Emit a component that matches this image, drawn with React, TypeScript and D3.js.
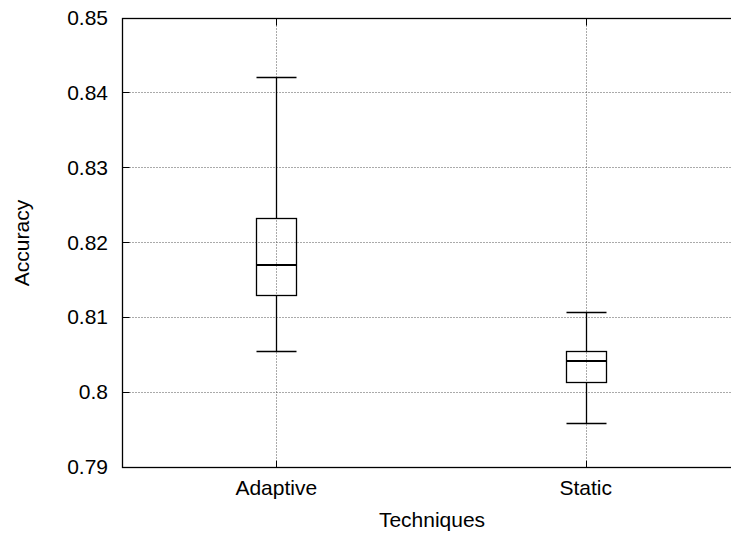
import React from "react";
import * as d3 from "d3";

const categories = ["Adaptive", "Static"];
const whiskerLow = [0.8054, 0.7958];
const q1 = [0.8129, 0.8013];
const median = [0.8169, 0.8041];
const q3 = [0.8232, 0.8055];
const whiskerHigh = [0.842, 0.8106];
const yTicks = [0.79, 0.8, 0.81, 0.82, 0.83, 0.84, 0.85];
const yTickLabels = ["0.79", "0.8", "0.81", "0.82", "0.83", "0.84", "0.85"];
const xLabel = "Techniques";
const yLabel = "Accuracy";

const W = 731;
const H = 533;
const FONT = "'Liberation Sans', Arial, Helvetica, sans-serif";

export default function App() {
  const x = d3.scaleLinear().domain([0.5, 2.5]).range([121.5, 740.5]);
  const y = d3.scaleLinear().domain([0.79, 0.85]).range([466.5, 17.5]);
  const c = (v: number) => Math.round(v) + 0.5;
  const left = c(x(0.5));
  const right = c(x(2.5));
  const top = c(y(0.85));
  const bottom = c(y(0.79));
  const tickLen = 7;
  const boxHalf = 20;

  return (
    <svg
      width={W}
      height={H}
      style={{ position: "absolute", left: 0, top: 0, background: "#fff" }}
      fontFamily={FONT}
    >
      <rect x={0} y={0} width={W} height={H} fill="#fff" />
      {/* horizontal grid */}
      {yTicks.slice(1, -1).map((t) => (
        <line
          key={"gy" + t}
          x1={left + tickLen}
          x2={right - tickLen}
          y1={c(y(t))}
          y2={c(y(t))}
          stroke="#555"
          strokeDasharray="1,2"
        />
      ))}
      {/* vertical grid */}
      {categories.map((_, i) => (
        <line
          key={"gx" + i}
          x1={c(x(i + 1))}
          x2={c(x(i + 1))}
          y1={top + tickLen}
          y2={bottom - tickLen}
          stroke="#555"
          strokeDasharray="1,2"
        />
      ))}
      {/* y ticks */}
      {yTicks.map((t, i) => (
        <g key={"yt" + t}>
          <line x1={left} x2={left + tickLen} y1={c(y(t))} y2={c(y(t))} stroke="#000" />
          <line x1={right} x2={right - tickLen} y1={c(y(t))} y2={c(y(t))} stroke="#000" />
          <text
            x={108}
            y={y(t)}
            dy="0.36em"
            textAnchor="end"
            fontSize={21}
            fill="#000"
          >
            {yTickLabels[i]}
          </text>
        </g>
      ))}
      {/* x ticks */}
      {categories.map((name, i) => (
        <g key={"xt" + name}>
          <line x1={c(x(i + 1))} x2={c(x(i + 1))} y1={bottom} y2={bottom - tickLen} stroke="#000" />
          <line x1={c(x(i + 1))} x2={c(x(i + 1))} y1={top} y2={top + tickLen} stroke="#000" />
          <text x={x(i + 1)} y={495} textAnchor="middle" fontSize={21} fill="#000">
            {name}
          </text>
        </g>
      ))}
      {/* boxes */}
      {categories.map((name, i) => {
        const cx = c(x(i + 1));
        const yLo = c(y(whiskerLow[i]));
        const yHi = c(y(whiskerHigh[i]));
        const yQ1 = c(y(q1[i]));
        const yQ3 = c(y(q3[i]));
        const yMed = Math.round(y(median[i]));
        return (
          <g key={"box" + name} stroke="#000" fill="none">
            <line x1={cx} x2={cx} y1={yHi} y2={yQ3} strokeWidth={1.3} />
            <line x1={cx} x2={cx} y1={yQ1} y2={yLo} strokeWidth={1.3} />
            <line x1={cx - boxHalf} x2={cx + boxHalf} y1={yHi} y2={yHi} strokeWidth={1.3} />
            <line x1={cx - boxHalf} x2={cx + boxHalf} y1={yLo} y2={yLo} strokeWidth={1.3} />
            <rect
              x={cx - boxHalf}
              y={yQ3}
              width={boxHalf * 2}
              height={yQ1 - yQ3}
              strokeWidth={1.3}
            />
            <line x1={cx - boxHalf} x2={cx + boxHalf} y1={yMed} y2={yMed} strokeWidth={2} />
          </g>
        );
      })}
      {/* frame */}
      <rect
        x={left}
        y={top}
        width={right - left}
        height={bottom - top}
        fill="none"
        stroke="#000"
        strokeWidth={1.3}
      />
      <text x={(left + right) / 2} y={527} textAnchor="middle" fontSize={21} fill="#000">
        {xLabel}
      </text>
      <text
        transform={`translate(29,${(top + bottom) / 2}) rotate(-90)`}
        textAnchor="middle"
        fontSize={21}
        fill="#000"
      >
        {yLabel}
      </text>
    </svg>
  );
}
